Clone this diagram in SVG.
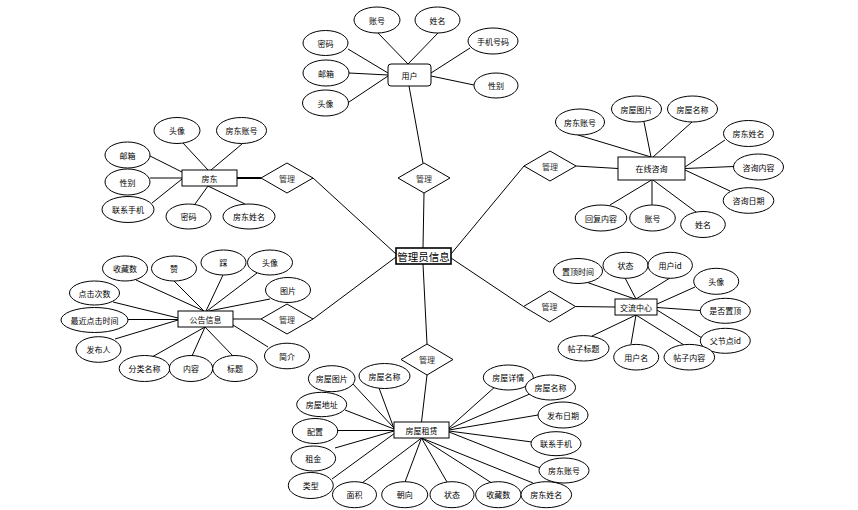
<svg xmlns="http://www.w3.org/2000/svg" width="858" height="510" viewBox="0 0 858 510">
<style>
.bg{fill:#fff}
.e{fill:#fff;stroke:#000;stroke-width:1}
.r{fill:#fff;stroke:#000;stroke-width:1}
.d{fill:#fff;stroke:#000;stroke-width:1}
.c line{stroke:#000;stroke-width:1}
text{font-family:"Noto Sans CJK SC","Noto Sans",sans-serif;font-size:8px;fill:#000;text-anchor:middle;dominant-baseline:central}
.rel{fill:#333}
.big{font-size:10.5px}
</style>
<rect class="bg" x="0" y="0" width="858" height="510"/>
<g id="connectors" class="c">
<!-- admin hub -->
<line x1="409" y1="86" x2="423" y2="163"/>
<line x1="424" y1="193" x2="423" y2="248"/>
<line x1="396" y1="254" x2="313" y2="178"/>
<line x1="237" y1="178" x2="261" y2="178" style="stroke-width:2"/>
<line x1="396" y1="257" x2="313" y2="319"/>
<line x1="233" y1="319" x2="261" y2="319"/>
<line x1="451" y1="254" x2="524" y2="166"/>
<line x1="576" y1="166" x2="618" y2="168.5"/>
<line x1="451" y1="258" x2="523.5" y2="306.5"/>
<line x1="575.5" y1="306.5" x2="615" y2="307"/>
<line x1="423" y1="264" x2="427" y2="344"/>
<line x1="427" y1="375" x2="421.5" y2="422"/>
<!-- user attributes -->
<line x1="378" y1="33" x2="408" y2="64"/>
<line x1="438" y1="33" x2="408" y2="64"/>
<line x1="348" y1="49" x2="388" y2="73"/>
<line x1="349" y1="73" x2="388" y2="75"/>
<line x1="349" y1="102" x2="388" y2="76"/>
<line x1="470" y1="48" x2="431" y2="73"/>
<line x1="474" y1="85" x2="431" y2="76"/>
<!-- landlord attributes -->
<line x1="183" y1="143" x2="208" y2="170"/>
<line x1="242" y1="144" x2="211" y2="170"/>
<line x1="150" y1="156" x2="182" y2="172"/>
<line x1="150" y1="178" x2="182" y2="178"/>
<line x1="152" y1="203" x2="182" y2="179"/>
<line x1="195" y1="204" x2="208" y2="186"/>
<line x1="245" y1="204" x2="208" y2="186"/>
<!-- notice attributes -->
<line x1="136" y1="280" x2="204" y2="311"/>
<line x1="173" y1="280" x2="204" y2="311"/>
<line x1="223" y1="275" x2="206" y2="311"/>
<line x1="257" y1="273" x2="207" y2="311"/>
<line x1="270" y1="299" x2="209" y2="311"/>
<line x1="113" y1="302" x2="178" y2="318"/>
<line x1="128" y1="319.5" x2="178" y2="319.5"/>
<line x1="115" y1="339" x2="178" y2="320"/>
<line x1="152" y1="357" x2="205" y2="327"/>
<line x1="192" y1="356" x2="205" y2="327"/>
<line x1="233" y1="356" x2="205" y2="327"/>
<line x1="268" y1="347" x2="233" y2="325"/>
<!-- consult attributes -->
<line x1="578" y1="135" x2="651" y2="157"/>
<line x1="644" y1="122" x2="651" y2="157"/>
<line x1="692" y1="122" x2="653" y2="157"/>
<line x1="725" y1="140" x2="685" y2="167"/>
<line x1="734" y1="166.5" x2="685" y2="168.5"/>
<line x1="730" y1="191" x2="685" y2="170"/>
<line x1="610" y1="205" x2="651.5" y2="180"/>
<line x1="652" y1="205" x2="652" y2="180"/>
<line x1="696" y1="212" x2="653" y2="180"/>
<!-- forum attributes -->
<line x1="586" y1="282" x2="635" y2="299"/>
<line x1="625" y1="278" x2="636" y2="299"/>
<line x1="670" y1="278" x2="636" y2="299"/>
<line x1="695" y1="287" x2="657" y2="304"/>
<line x1="700" y1="310.5" x2="657" y2="307.5"/>
<line x1="702" y1="338" x2="657" y2="310"/>
<line x1="592" y1="336" x2="636" y2="315"/>
<line x1="631" y1="344" x2="636" y2="315"/>
<line x1="684" y1="345" x2="636" y2="315"/>
<!-- rental attributes -->
<line x1="352" y1="383" x2="394" y2="428"/>
<line x1="379" y1="388" x2="394" y2="428.5"/>
<line x1="345" y1="410" x2="394" y2="429"/>
<line x1="338" y1="430.5" x2="394" y2="430.5"/>
<line x1="335" y1="448" x2="394" y2="431"/>
<line x1="332" y1="479" x2="395" y2="433"/>
<line x1="362" y1="483" x2="421.5" y2="438"/>
<line x1="405" y1="482" x2="421.5" y2="438"/>
<line x1="447" y1="482" x2="421.5" y2="438"/>
<line x1="498" y1="487" x2="421.5" y2="438"/>
<line x1="533" y1="483" x2="421.5" y2="438"/>
<line x1="497" y1="385" x2="449" y2="428"/>
<line x1="532" y1="393" x2="449" y2="429"/>
<line x1="538" y1="415" x2="449" y2="430"/>
<line x1="532" y1="442" x2="449" y2="431"/>
<line x1="540" y1="468" x2="449" y2="432"/>
</g>

<!-- relationship diamonds -->
<g id="rel-user"><polygon class="d" points="398,178 424,163 450,178 424,193"/><text class="rel" x="424" y="178">管理</text></g>
<g id="rel-landlord"><polygon class="d" points="261,178 287,163 313,178 287,193"/><text class="rel" x="287" y="178">管理</text></g>
<g id="rel-consult"><polygon class="d" points="524,166 550,151 576,166 550,181"/><text class="rel" x="550" y="166">管理</text></g>
<g id="rel-forum"><polygon class="d" points="523.5,306.5 549.5,291 575.5,306.5 549.5,322"/><text class="rel" x="549.5" y="306.5">管理</text></g>
<g id="rel-notice"><polygon class="d" points="261,319 287,304 313,319 287,334"/><text class="rel" x="287" y="319">管理</text></g>
<g id="rel-rental"><polygon class="d" points="401,359.5 427,344 453,359.5 427,375"/><text class="rel" x="427" y="359.5">管理</text></g>

<!-- entities -->
<g id="admin"><rect class="r" x="396" y="248" width="55" height="16" style="stroke-width:1.6"/><text class="big" x="423.5" y="256">管理员信息</text></g>
<g id="user"><rect class="r" x="388" y="64" width="43" height="22" rx="3"/><text x="409.5" y="75">用户</text></g>
<g id="landlord"><rect class="r" x="182" y="170" width="55" height="16"/><text x="209.5" y="178">房东</text></g>
<g id="notice"><rect class="r" x="178" y="311" width="55" height="16"/><text x="205.5" y="319">公告信息</text></g>
<g id="consult"><rect class="r" x="618" y="157" width="67" height="23"/><text x="651.5" y="168.5">在线咨询</text></g>
<g id="forum"><rect class="r" x="615" y="299" width="42" height="16"/><text x="636" y="307">交流中心</text></g>
<g id="rental"><rect class="r" x="394" y="422" width="55" height="16"/><text x="421.5" y="430">房屋租赁</text></g>

<!-- user attributes -->
<g id="u-account"><ellipse class="e" cx="377" cy="20" rx="23" ry="13"/><text x="377" y="20">账号</text></g>
<g id="u-name"><ellipse class="e" cx="437.5" cy="20" rx="22.5" ry="13"/><text x="437.5" y="20">姓名</text></g>
<g id="u-pwd"><ellipse class="e" cx="325.5" cy="43" rx="22.5" ry="12.5"/><text x="325.5" y="43">密码</text></g>
<g id="u-phone"><ellipse class="e" cx="493" cy="41" rx="25" ry="13"/><text x="493" y="41">手机号码</text></g>
<g id="u-mail"><ellipse class="e" cx="326" cy="73" rx="23" ry="13"/><text x="326" y="73">邮箱</text></g>
<g id="u-sex"><ellipse class="e" cx="496" cy="85.5" rx="22" ry="12.5"/><text x="496" y="85.5">性别</text></g>
<g id="u-avatar"><ellipse class="e" cx="325.5" cy="103" rx="23" ry="13"/><text x="325.5" y="103">头像</text></g>

<!-- landlord attributes -->
<g id="l-avatar"><ellipse class="e" cx="177" cy="130.5" rx="23" ry="13"/><text x="177" y="130.5">头像</text></g>
<g id="l-account"><ellipse class="e" cx="241.5" cy="130.5" rx="25" ry="13"/><text x="241.5" y="130.5">房东账号</text></g>
<g id="l-mail"><ellipse class="e" cx="127.5" cy="155" rx="22.5" ry="13"/><text x="127.5" y="155">邮箱</text></g>
<g id="l-sex"><ellipse class="e" cx="127.5" cy="182" rx="22.5" ry="13"/><text x="127.5" y="182">性别</text></g>
<g id="l-phone"><ellipse class="e" cx="128" cy="209.5" rx="26" ry="13"/><text x="128" y="209.5">联系手机</text></g>
<g id="l-pwd"><ellipse class="e" cx="188.5" cy="216.5" rx="22.5" ry="12.5"/><text x="188.5" y="216.5">密码</text></g>
<g id="l-name"><ellipse class="e" cx="249" cy="216.5" rx="26" ry="12.5"/><text x="249" y="216.5">房东姓名</text></g>

<!-- notice attributes -->
<g id="n-fav"><ellipse class="e" cx="125" cy="268.5" rx="22.5" ry="12.5"/><text x="125" y="268.5">收藏数</text></g>
<g id="n-like"><ellipse class="e" cx="174" cy="268.5" rx="22.5" ry="12.5"/><text x="174" y="268.5">赞</text></g>
<g id="n-dislike"><ellipse class="e" cx="223.5" cy="262.5" rx="22.5" ry="12.5"/><text x="223.5" y="262.5">踩</text></g>
<g id="n-avatar"><ellipse class="e" cx="270" cy="262.5" rx="22.5" ry="12.5"/><text x="270" y="262.5">头像</text></g>
<g id="n-pic"><ellipse class="e" cx="288" cy="290" rx="22.5" ry="12.5"/><text x="288" y="290">图片</text></g>
<g id="n-clicks"><ellipse class="e" cx="94.5" cy="293" rx="25" ry="12"/><text x="94.5" y="293">点击次数</text></g>
<g id="n-lastclick"><ellipse class="e" cx="94.5" cy="320" rx="33.5" ry="12.5"/><text x="94.5" y="320">最近点击时间</text></g>
<g id="n-publisher"><ellipse class="e" cx="98.5" cy="349.5" rx="22.5" ry="12.8"/><text x="98.5" y="349.5">发布人</text></g>
<g id="n-category"><ellipse class="e" cx="144.5" cy="368.5" rx="25.3" ry="13"/><text x="144.5" y="368.5">分类名称</text></g>
<g id="n-content"><ellipse class="e" cx="191" cy="368.5" rx="21.7" ry="13"/><text x="191" y="368.5">内容</text></g>
<g id="n-title"><ellipse class="e" cx="235" cy="368.5" rx="22.3" ry="13"/><text x="235" y="368.5">标题</text></g>
<g id="n-intro"><ellipse class="e" cx="287" cy="356" rx="22.5" ry="12.8"/><text x="287" y="356">简介</text></g>

<!-- consult attributes -->
<g id="c-laccount"><ellipse class="e" cx="580" cy="122" rx="24.5" ry="13"/><text x="580" y="122">房东账号</text></g>
<g id="c-hpic"><ellipse class="e" cx="636.5" cy="109" rx="25" ry="13"/><text x="636.5" y="109">房屋图片</text></g>
<g id="c-hname"><ellipse class="e" cx="692.5" cy="109" rx="25" ry="13"/><text x="692.5" y="109">房屋名称</text></g>
<g id="c-lname"><ellipse class="e" cx="748.5" cy="133.5" rx="25" ry="13"/><text x="748.5" y="133.5">房东姓名</text></g>
<g id="c-content"><ellipse class="e" cx="758.5" cy="167" rx="25" ry="13"/><text x="758.5" y="167">咨询内容</text></g>
<g id="c-date"><ellipse class="e" cx="748.5" cy="200.5" rx="25.3" ry="12.8"/><text x="748.5" y="200.5">咨询日期</text></g>
<g id="c-reply"><ellipse class="e" cx="601" cy="218" rx="25.8" ry="13"/><text x="601" y="218">回复内容</text></g>
<g id="c-account"><ellipse class="e" cx="652.5" cy="218" rx="22.8" ry="13"/><text x="652.5" y="218">账号</text></g>
<g id="c-name"><ellipse class="e" cx="703" cy="224.5" rx="22.3" ry="13"/><text x="703" y="224.5">姓名</text></g>

<!-- forum attributes -->
<g id="f-toptime"><ellipse class="e" cx="578" cy="271" rx="24.5" ry="12.5"/><text x="578" y="271">置顶时间</text></g>
<g id="f-status"><ellipse class="e" cx="625.5" cy="265.3" rx="22.5" ry="13"/><text x="625.5" y="265.3">状态</text></g>
<g id="f-uid"><ellipse class="e" cx="670.2" cy="265.3" rx="22.2" ry="13"/><text x="670.2" y="265.3">用户id</text></g>
<g id="f-avatar"><ellipse class="e" cx="716.2" cy="281.3" rx="22.5" ry="13"/><text x="716.2" y="281.3">头像</text></g>
<g id="f-istop"><ellipse class="e" cx="725.3" cy="310.8" rx="25" ry="12.5"/><text x="725.3" y="310.8">是否置顶</text></g>
<g id="f-parent"><ellipse class="e" cx="725.3" cy="340.8" rx="25" ry="12.5"/><text x="725.3" y="340.8">父节点id</text></g>
<g id="f-ptitle"><ellipse class="e" cx="583.5" cy="348.3" rx="25.5" ry="12.7"/><text x="583.5" y="348.3">帖子标题</text></g>
<g id="f-uname"><ellipse class="e" cx="636.2" cy="357.2" rx="22.5" ry="12.8"/><text x="636.2" y="357.2">用户名</text></g>
<g id="f-pcontent"><ellipse class="e" cx="689.3" cy="357.2" rx="25.3" ry="12.8"/><text x="689.3" y="357.2">帖子内容</text></g>

<!-- rental attributes -->
<g id="r-pic"><ellipse class="e" cx="331.7" cy="378.7" rx="23.3" ry="13"/><text x="331.7" y="378.7">房屋图片</text></g>
<g id="r-name"><ellipse class="e" cx="384.5" cy="376" rx="25.5" ry="12.5"/><text x="384.5" y="376">房屋名称</text></g>
<g id="r-addr"><ellipse class="e" cx="321.7" cy="404.5" rx="25" ry="12.2"/><text x="321.7" y="404.5">房屋地址</text></g>
<g id="r-config"><ellipse class="e" cx="315" cy="431" rx="22.7" ry="12.5"/><text x="315" y="431">配置</text></g>
<g id="r-rent"><ellipse class="e" cx="313.3" cy="458.5" rx="22.3" ry="12.5"/><text x="313.3" y="458.5">租金</text></g>
<g id="r-type"><ellipse class="e" cx="310.8" cy="485.5" rx="22.5" ry="13"/><text x="310.8" y="485.5">类型</text></g>
<g id="r-area"><ellipse class="e" cx="354.5" cy="494.7" rx="22" ry="13"/><text x="354.5" y="494.7">面积</text></g>
<g id="r-orient"><ellipse class="e" cx="404.7" cy="494.7" rx="23" ry="13"/><text x="404.7" y="494.7">朝向</text></g>
<g id="r-status"><ellipse class="e" cx="452" cy="494.7" rx="22" ry="13"/><text x="452" y="494.7">状态</text></g>
<g id="r-fav"><ellipse class="e" cx="498.3" cy="494.7" rx="22.7" ry="13"/><text x="498.3" y="494.7">收藏数</text></g>
<g id="r-lname"><ellipse class="e" cx="546.3" cy="494.7" rx="25.3" ry="13"/><text x="546.3" y="494.7">房东姓名</text></g>
<g id="r-detail"><ellipse class="e" cx="508.3" cy="377.5" rx="25" ry="12.5"/><text x="508.3" y="377.5">房屋详情</text></g>
<g id="r-name2"><ellipse class="e" cx="550.5" cy="387.5" rx="25" ry="12.5"/><text x="550.5" y="387.5">房屋名称</text></g>
<g id="r-date"><ellipse class="e" cx="563" cy="415" rx="25" ry="13"/><text x="563" y="415">发布日期</text></g>
<g id="r-phone"><ellipse class="e" cx="556" cy="443.7" rx="25" ry="12"/><text x="556" y="443.7">联系手机</text></g>
<g id="r-laccount"><ellipse class="e" cx="564" cy="470.5" rx="25" ry="12.5"/><text x="564" y="470.5">房东账号</text></g>
</svg>
